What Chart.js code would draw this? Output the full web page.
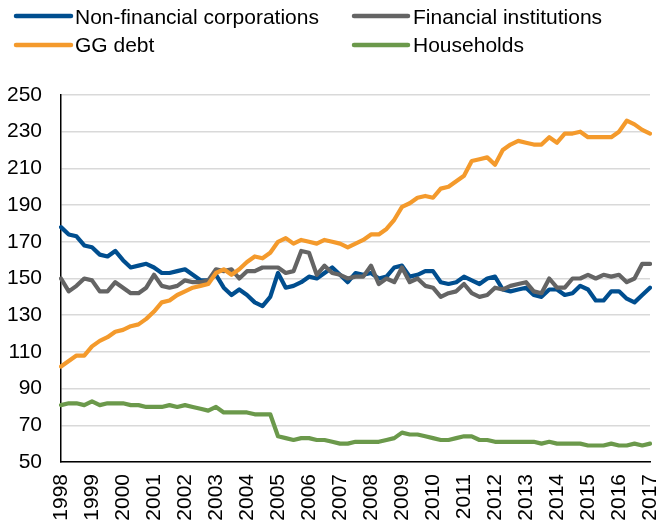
<!DOCTYPE html>
<html>
<head>
<meta charset="utf-8">
<script src="https://cdn.jsdelivr.net/npm/chart.js@4"></script>
<style>
html,body{margin:0;padding:0;background:#fff;}
canvas{display:block;}
</style>
</head>
<body>
<canvas id="c" width="670" height="527"></canvas>
<script>
const yearLabels = ['1998','1999','2000','2001','2002','2003','2004','2005','2006','2007','2008','2009','2010','2011','2012','2013','2014','2015','2016','2017'];
const quarterNames = ['Q1','Q2','Q3','Q4'];
const yTicks = { min: 50, max: 250, step: 20 };

const seriesNames = ['Non-financial corporations','Financial institutions','GG debt','Households'];

const nfc = [178,174,173,168,167,163,162,165,160,156,157,158,156,153,153,154,155,152,149,149,
             152,145,141,144,141,137,135,140,153,145,146,148,151,150,153,156,152,148,153,152,
             153,150,151,156,157,151,152,154,154,148,147,148,151,149,147,150,151,144,143,144,
             145,141,140,144,144,141,142,146,144,138,138,143,143,139,137,141,145];

const fi  = [150,143,146,150,149,143,143,148,145,142,142,145,152,146,145,146,149,148,148,149,
             155,154,155,150,154,154,156,156,156,153,154,165,164,152,157,153,152,150,151,151,
             157,147,150,148,156,148,150,146,145,140,142,143,147,142,140,141,145,144,146,147,
             148,143,142,150,145,145,150,150,152,150,152,151,152,148,150,158,158];

const gg  = [102,105,108,108,113,116,118,121,122,124,125,128,132,137,138,141,143,145,146,147,
             153,155,152,155,159,162,161,164,170,172,169,171,170,169,171,170,169,167,169,171,
             174,174,177,182,189,191,194,195,194,199,200,203,206,214,215,216,212,220,223,225,
             224,223,223,227,224,229,229,230,227,227,227,227,230,236,234,231,229];

const hh  = [81,82,82,81,83,81,82,82,82,81,81,80,80,80,81,80,81,80,79,78,
             80,77,77,77,77,76,76,76,64,63,62,63,63,62,62,61,60,60,61,61,
             61,61,62,63,66,65,65,64,63,62,62,63,64,64,62,62,61,61,61,61,
             61,61,60,61,60,60,60,60,59,59,59,60,59,59,60,59,60];

const colors = ['#004E8F','#646464','#F49A2C','#6B994B'];

const categories = [];
yearLabels.forEach((y, i) => {
  quarterNames.forEach((q, j) => {
    if (i < yearLabels.length - 1 || j === 0) categories.push(y + ' ' + q);
  });
});

const FONT = '"Liberation Sans", Arial, sans-serif';

const legendPlugin = {
  id: 'customLegend',
  afterDraw(chart) {
    const ctx = chart.ctx;
    const ds = chart.data.datasets;
    const slots = [
      {i:0, x1:16, x2:71, tx:75, y:16, by:23.5},
      {i:1, x1:354, x2:408, tx:413, y:16, by:23.5},
      {i:2, x1:16, x2:71, tx:75, y:45, by:52},
      {i:3, x1:354, x2:408, tx:413, y:45, by:52}
    ];
    ctx.save();
    slots.forEach(s => {
      const d = ds[s.i];
      ctx.strokeStyle = d.borderColor;
      ctx.lineWidth = 4.5;
      ctx.lineCap = 'round';
      ctx.beginPath();
      ctx.moveTo(s.x1, s.y);
      ctx.lineTo(s.x2, s.y);
      ctx.stroke();
      ctx.fillStyle = '#000';
      ctx.font = '21px ' + FONT;
      ctx.textBaseline = 'alphabetic';
      ctx.textAlign = 'left';
      ctx.fillText(d.label, s.tx, s.by);
    });
    ctx.restore();
  }
};

const mk = (idx, data, order) => ({
  label: seriesNames[idx],
  data: data,
  borderColor: colors[idx],
  backgroundColor: colors[idx],
  borderWidth: 4.2,
  pointRadius: 0,
  pointHoverRadius: 0,
  tension: 0,
  borderCapStyle: 'round',
  borderJoinStyle: 'round',
  fill: false,
  order: order
});

new Chart(document.getElementById('c'), {
  type: 'line',
  data: {
    labels: categories,
    datasets: [mk(0, nfc, 4), mk(1, fi, 3), mk(2, gg, 2), mk(3, hh, 1)]
  },
  options: {
    responsive: false,
    animation: false,
    devicePixelRatio: 1,
    layout: { padding: { top: 95, right: 20, left: 0, bottom: 0 } },
    plugins: { legend: { display: false }, tooltip: { enabled: false } },
    scales: {
      x: {
        type: 'category',
        offset: false,
        grid: { display: false, drawTicks: false },
        border: { display: true, color: '#000', width: 1.5 },
        ticks: {
          autoSkip: false,
          minRotation: 90,
          maxRotation: 90,
          padding: 12,
          color: '#000',
          font: { family: FONT, size: 21 },
          callback: function(v, index) { return index % 4 === 0 ? yearLabels[index / 4] : ''; }
        },
        afterFit(scale) { scale.height = 65; scale.paddingRight = 0; scale.paddingLeft = 0; }
      },
      y: {
        min: yTicks.min,
        max: yTicks.max,
        grid: { color: '#D9D9D9', lineWidth: 1.6, drawTicks: false },
        border: { display: true, color: '#000', width: 1.5 },
        ticks: {
          stepSize: yTicks.step,
          padding: 19,
          color: '#000',
          font: { family: FONT, size: 21 }
        },
        afterFit(scale) { scale.width = 61; scale.paddingTop = 0; scale.paddingBottom = 0; }
      }
    }
  },
  plugins: [legendPlugin]
});
</script>
</body>
</html>
